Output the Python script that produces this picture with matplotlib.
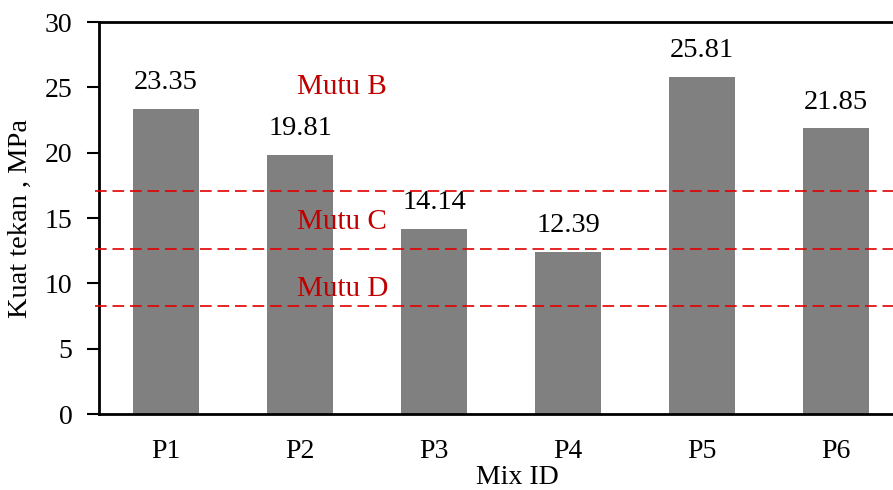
import matplotlib
matplotlib.use('Agg')
import matplotlib.pyplot as plt

plt.rcParams['font.family'] = ['Liberation Serif', 'DejaVu Serif']

# ===== データ =====
mix_ids = ['P1', 'P2', 'P3', 'P4', 'P5', 'P6']
strength = [23.35, 19.81, 14.14, 12.39, 25.81, 21.85]

grade_names = ['Mutu B', 'Mutu C', 'Mutu D']
grade_lines = [17.1, 12.6, 8.25]
grade_text_y = [25.0, 14.7, 9.6]

# ===== 描画 =====
fig = plt.figure(figsize=(8.93, 4.90), dpi=100)
ax = fig.add_axes([99 / 893, 76 / 490, 804 / 893, 392 / 490])

x = range(len(mix_ids))
bars = ax.bar(x, strength, width=0.49, color='#808080', zorder=2)

for xi, v in zip(x, strength):
    ax.annotate(f'{v:.2f}', (xi, v), xytext=(0, 10), textcoords='offset points',
                ha='center', va='bottom', fontsize=20.5, color='black')

for y in grade_lines:
    ax.axhline(y, xmin=-0.005, color='#e00000', linewidth=1.2, dashes=(7, 3.5),
               zorder=3, clip_on=False)

for name, ty in zip(grade_names, grade_text_y):
    ax.text(0.98, ty, name, color='#c00000', fontsize=21, ha='left', va='center')

ax.set_xlim(-0.5, 5.5)
ax.set_ylim(0, 30)
ax.set_yticks(range(0, 31, 5))
ax.set_xticks(list(x))
ax.set_xticklabels(mix_ids)

ax.tick_params(axis='y', direction='out', length=9, width=1.5, labelsize=20, pad=10)
ax.tick_params(axis='x', length=0, labelsize=20, pad=18)

for s in ['left', 'bottom', 'top']:
    ax.spines[s].set_linewidth(2)
ax.spines['right'].set_visible(False)

ax.set_ylabel('Kuat tekan , MPa', fontsize=20.5)
ax.yaxis.set_label_coords(-0.082, 0.5)
ax.set_xlabel('Mix ID', fontsize=20)
ax.xaxis.set_label_coords(0.52, -0.13)

plt.savefig('out.png', dpi=100)
